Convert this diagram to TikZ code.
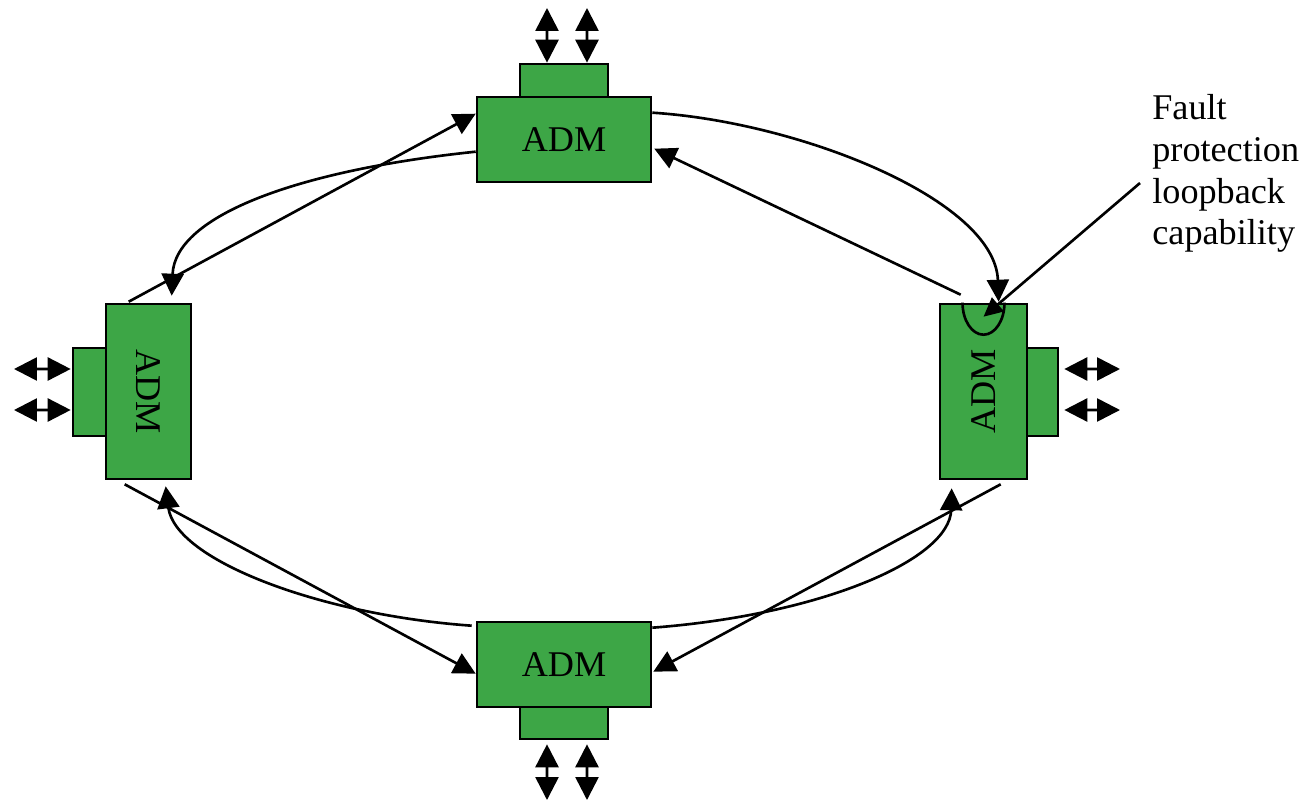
\documentclass[tikz,border=0pt]{standalone}
\usepackage{fontspec}
\setmainfont{Liberation Serif}
\usetikzlibrary{arrows.meta,calc}

\definecolor{admgreen}{RGB}{61,166,70}
\newcommand{\admfont}{\fontsize{20.6}{23.8}\selectfont}

\tikzset{
  unit/.style={draw=black, line width=1.5pt, fill=admgreen, inner sep=0pt, font=\admfont},
  portbox/.style={draw=black, line width=1.5pt, fill=admgreen, inner sep=0pt},
  link/.style={line width=1.5pt, -{Triangle[length=0.44cm,width=0.44cm]}},
  io/.style={line width=1.5pt, {Triangle[length=0.46cm,width=0.46cm]}-{Triangle[length=0.46cm,width=0.46cm]}},
}

\begin{document}
\begin{tikzpicture}[x=0.02cm, y=-0.02cm]
\useasboundingbox (0,0) rectangle (1311,801);

% tributary ports
\node[portbox, minimum width=1.76cm, minimum height=0.66cm] (topport)    at (564,80.5)  {};
\node[portbox, minimum width=1.76cm, minimum height=0.64cm] (bottomport) at (564,723)   {};
\node[portbox, minimum width=0.66cm, minimum height=1.76cm] (leftport)   at (89.5,392)  {};
\node[portbox, minimum width=0.62cm, minimum height=1.76cm] (rightport)  at (1042.5,392){};

% add-drop multiplexers
\node[unit, minimum width=3.48cm, minimum height=1.7cm] (top)    at (564,139.5) {ADM};
\node[unit, minimum width=3.48cm, minimum height=1.7cm] (bottom) at (564,664.5) {ADM};
\node[unit, minimum width=1.7cm,  minimum height=3.5cm] (left)   at (148.5,391.5) {\rotatebox{-90}{ADM}};
\node[unit, minimum width=1.74cm, minimum height=3.5cm] (right)  at (983.5,391.5) {\rotatebox{90}{ADM}};

% add/drop traffic
\coordinate (topin1) at (547,8);    \coordinate (topin2) at (587,8);
\coordinate (botin1) at (547,800);  \coordinate (botin2) at (587,800);
\coordinate (lftin1) at (14,369);   \coordinate (lftin2) at (14,410);
\coordinate (rgtin1) at (1120,369); \coordinate (rgtin2) at (1120,410);
\draw[io] (topin1) -- ([xshift=-0.34cm]topport.north);
\draw[io] (topin2) -- ([xshift=0.46cm]topport.north);
\draw[io] (botin1) -- ([xshift=-0.34cm,yshift=-0.08cm]bottomport.south);
\draw[io] (botin2) -- ([xshift=0.46cm,yshift=-0.08cm]bottomport.south);
\draw[io] (lftin1) -- ([yshift=0.46cm,xshift=-0.02cm]leftport.west);
\draw[io] (lftin2) -- ([yshift=-0.36cm,xshift=-0.02cm]leftport.west);
\draw[io] (rgtin1) -- ([yshift=0.46cm,xshift=0.1cm]rightport.east);
\draw[io] (rgtin2) -- ([yshift=-0.36cm,xshift=0.1cm]rightport.east);

% outer ring (curved)
\draw[link] ([yshift=-1.12cm]top.north west)
  .. controls (300,170) and (175,215) .. ([xshift=1.34cm,yshift=0.14cm]left.north west);
\draw[link] ([yshift=-0.34cm]top.north east)
  .. controls (800,122) and (995,200) .. ([xshift=1.2cm,yshift=0.02cm]right.north west);
\draw[link] ([xshift=-0.08cm,yshift=-0.1cm]bottom.north west)
  .. controls (320,615) and (175,560) .. ([xshift=1.22cm,yshift=-0.12cm]left.south west);
\draw[link] ([yshift=-0.14cm]bottom.north east)
  .. controls (820,615) and (950,560) .. ([xshift=0.26cm,yshift=-0.16cm]right.south west);

% inner ring (straight)
\draw[link] ([xshift=0.48cm,yshift=0.02cm]left.north west) -- ([yshift=-0.36cm]top.north west);
\draw[link] ([xshift=0.44cm,yshift=0.16cm]right.north west) -- ([xshift=0.04cm,yshift=-1.06cm]top.north east);
\draw[link] ([xshift=0.4cm,yshift=-0.08cm]left.south west) -- ([yshift=-1.06cm]bottom.north west);
\draw[link] ([xshift=1.24cm,yshift=-0.08cm]right.south west) -- ([xshift=0.02cm,yshift=-1.02cm]bottom.north east);

% loopback at the right multiplexer
\draw[line width=1.5pt] ([xshift=-0.42cm]right.north)
  arc[start angle=180, end angle=360, x radius=0.42cm, y radius=0.64cm];

% annotation
\node[font=\admfont, align=left, anchor=north west, inner sep=0pt] (fault) at (1152,94)
  {Fault\\protection\\loopback\\capability};
\coordinate (faultfrom) at (1140,183);
\draw[link, -{Triangle[length=0.38cm,width=0.36cm]}] (faultfrom) -- ([yshift=-0.28cm]right.north);
\end{tikzpicture}
\end{document}
